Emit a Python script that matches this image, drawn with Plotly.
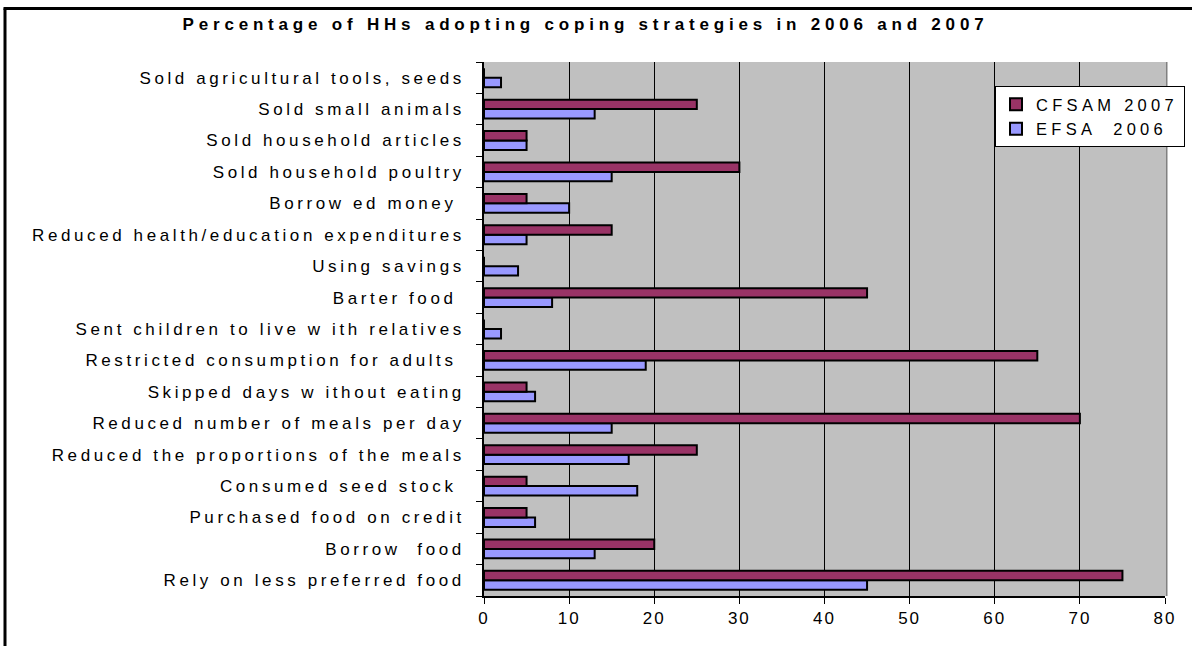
import plotly.graph_objects as go

# Categories listed bottom -> top
categories = [
    "Rely on less preferred food",
    "Borrow  food",
    "Purchased food on credit",
    "Consumed seed stock ",
    "Reduced the proportions of the meals",
    "Reduced number of meals per day",
    "Skipped days w ithout eating",
    "Restricted consumption for adults ",
    "Sent children to live w ith relatives",
    "Barter food ",
    "Using savings",
    "Reduced health/education expenditures",
    "Borrow ed money ",
    "Sold household poultry",
    "Sold household articles",
    "Sold small animals",
    "Sold agricultural tools, seeds",
]
cfsam_2007 = [75, 20, 5, 5, 25, 70, 5, 65, 0, 45, 0, 15, 5, 30, 5, 25, 0]
efsa_2006 = [45, 13, 6, 18, 17, 15, 6, 19, 2, 8, 4, 5, 10, 15, 5, 13, 2]

x_ticks = [0, 10, 20, 30, 40, 50, 60, 70, 80]
title_text = "Percentage of HHs adopting coping strategies in 2006 and 2007"

W, H = 1192, 646
L, R, T, B = 484, 27, 62, 50
pw, ph = W - L - R, H - T - B
FONT = "Liberation Sans"

def px_x(px):
    return (px - L) / pw

def px_y(py):
    return (H - B - py) / ph

fig = go.Figure()
fig.add_trace(go.Bar(
    y=categories, x=efsa_2006, name="EFSA  2006", orientation="h",
    marker=dict(color="#9999FF", line=dict(color="black", width=2)),
))
fig.add_trace(go.Bar(
    y=categories, x=cfsam_2007, name="CFSAM 2007", orientation="h",
    marker=dict(color="#993366", line=dict(color="black", width=2)),
))

fig.update_layout(
    width=W, height=H,
    margin=dict(l=L, r=R, t=T, b=B, autoexpand=False),
    paper_bgcolor="white",
    plot_bgcolor="#C0C0C0",
    barmode="group",
    bargap=0.4,
    bargroupgap=0,
    font=dict(family=FONT, size=16, color="black"),
    showlegend=True,
    legend=dict(
        xref="container", yref="container",
        x=995 / W, y=1 - 86 / H, xanchor="left", yanchor="top",
        bgcolor="white", bordercolor="black", borderwidth=1,
        traceorder="reversed",
        font=dict(family=FONT, size=16.5, color="black"),
        itemwidth=30, tracegroupgap=0,
    ),
    xaxis=dict(
        range=[0, 80], tickvals=x_ticks, ticktext=[str(v) for v in x_ticks],
        showgrid=True, gridcolor="black", gridwidth=1,
        showline=True, linecolor="black", linewidth=1.5,
        ticks="outside", ticklen=6, tickcolor="black",
        tickfont=dict(family=FONT, size=17),
        zeroline=False, fixedrange=True, automargin=False,
    ),
    yaxis=dict(
        type="category", categoryorder="array", categoryarray=categories,
        showgrid=False, showline=True, linecolor="black", linewidth=1.5,
        ticks="outside", ticklen=6, tickcolor="black", tickson="boundaries",
        tickfont=dict(family=FONT, size=17),
        ticklabelstandoff=14,
        fixedrange=True, automargin=False,
    ),
)

fig.add_annotation(
    text="<b>" + title_text + "</b>",
    xref="paper", yref="paper", x=px_x(585), y=px_y(24),
    xanchor="center", yanchor="middle", showarrow=False,
    font=dict(family=FONT, size=17, color="black"),
)

# plot-area right shadow
fig.add_shape(type="line", xref="paper", yref="paper",
              x0=px_x(1166.5), x1=px_x(1166.5), y0=px_y(62), y1=px_y(596),
              line=dict(color="#808080", width=2))
# outer frame (top and left)
fig.add_shape(type="line", xref="paper", yref="paper",
              x0=px_x(3.5), x1=px_x(1192), y0=px_y(8.5), y1=px_y(8.5),
              line=dict(color="black", width=3))
fig.add_shape(type="line", xref="paper", yref="paper",
              x0=px_x(5), x1=px_x(5), y0=px_y(8.5), y1=px_y(646),
              line=dict(color="black", width=3))

post = """
document.body.style.margin='0';
var st=document.createElement('style');
st.textContent='.ytick text{letter-spacing:3.6px !important}'
 + '.xtick text{letter-spacing:2px !important}'
 + '.annotation-text{letter-spacing:4.8px !important}'
 + '.legendtext{letter-spacing:4.3px !important}';
document.head.appendChild(st);
var gd=document.getElementById('{plot_id}');
Plotly.relayout(gd, {'legend.font.size': 16.51});
"""

fig.write_html("out.html", post_script=post, config={"displayModeBar": False})
